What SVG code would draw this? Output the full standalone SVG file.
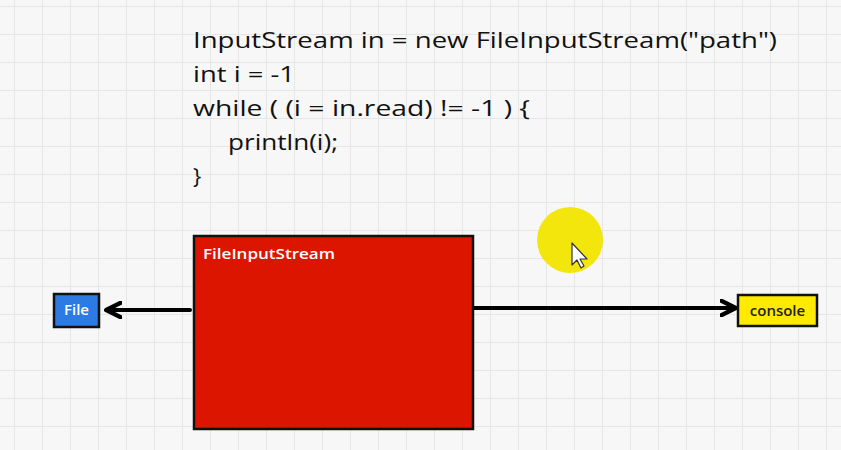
<svg xmlns="http://www.w3.org/2000/svg" width="841" height="450" viewBox="0 0 841 450">
<defs>
<pattern id="grid" x="14" y="6" width="28" height="28" patternUnits="userSpaceOnUse">
<path d="M0 0 H28 M0 0 V28" stroke="#e6e6e6" stroke-width="2" fill="none"/>
</pattern>
<marker id="ah" viewBox="0 0 10 10" refX="8" refY="5" markerWidth="4.5" markerHeight="4.5" orient="auto-start-reverse" markerUnits="strokeWidth">
<path d="M1 1 L9 5 L1 9" fill="none" stroke="#000" stroke-width="2.4" stroke-linecap="round" stroke-linejoin="round"/>
</marker>
<style>
.code{font-family:"Open Sans","Liberation Sans",sans-serif;font-size:22px;font-weight:500;fill:#111}
.lbl{font-family:"Open Sans","Liberation Sans",sans-serif;font-weight:600}
.conn{stroke:#000;stroke-width:4;fill:none;stroke-linecap:round}
</style>
</defs>
<rect width="841" height="450" fill="#f7f7f7"/>
<rect width="841" height="450" fill="url(#grid)"/>
<g id="code">
<text class="code" x="193" y="48" textLength="584" lengthAdjust="spacingAndGlyphs">InputStream in = new FileInputStream("path")</text>
<text class="code" x="193" y="82" textLength="102" lengthAdjust="spacingAndGlyphs">int i = -1</text>
<text class="code" x="193" y="116" textLength="337" lengthAdjust="spacingAndGlyphs">while ( (i = in.read) != -1 ) {</text>
<text class="code" x="228" y="150" textLength="110" lengthAdjust="spacingAndGlyphs">println(i);</text>
<text class="code" x="193" y="184">}</text>
</g>
<g id="connectors">
<line class="conn" x1="190" y1="310" x2="108" y2="310" marker-end="url(#ah)"/>
<line class="conn" x1="474" y1="308" x2="734" y2="308" marker-end="url(#ah)"/>
</g>
<g id="fileinputstream">
<rect x="194" y="236" width="279" height="193" fill="#dc1500" stroke="#111" stroke-width="2.5"/>
<text class="lbl" x="203" y="259" font-size="15" fill="#fff" textLength="132" lengthAdjust="spacingAndGlyphs">FileInputStream</text>
</g>
<g id="file">
<rect x="54" y="294" width="45" height="33" fill="#2b7be3" stroke="#111" stroke-width="2.5"/>
<text class="lbl" x="76.5" y="315" font-size="15" fill="#fff" text-anchor="middle">File</text>
</g>
<g id="console">
<rect x="738" y="295" width="79" height="31" fill="#ffea00" stroke="#111" stroke-width="2.5"/>
<text class="lbl" x="777.5" y="316" font-size="15" fill="#222" text-anchor="middle">console</text>
</g>
<g id="cursor">
<circle cx="570" cy="240" r="33" fill="#f2e500" opacity="0.95"/>
<path d="M572 243 L572 265 L577 260 L581 268 L584 266 L580 259 L587 259 Z" fill="#fff" stroke="#333" stroke-width="1.2" stroke-linejoin="round"/>
</g>
</svg>
